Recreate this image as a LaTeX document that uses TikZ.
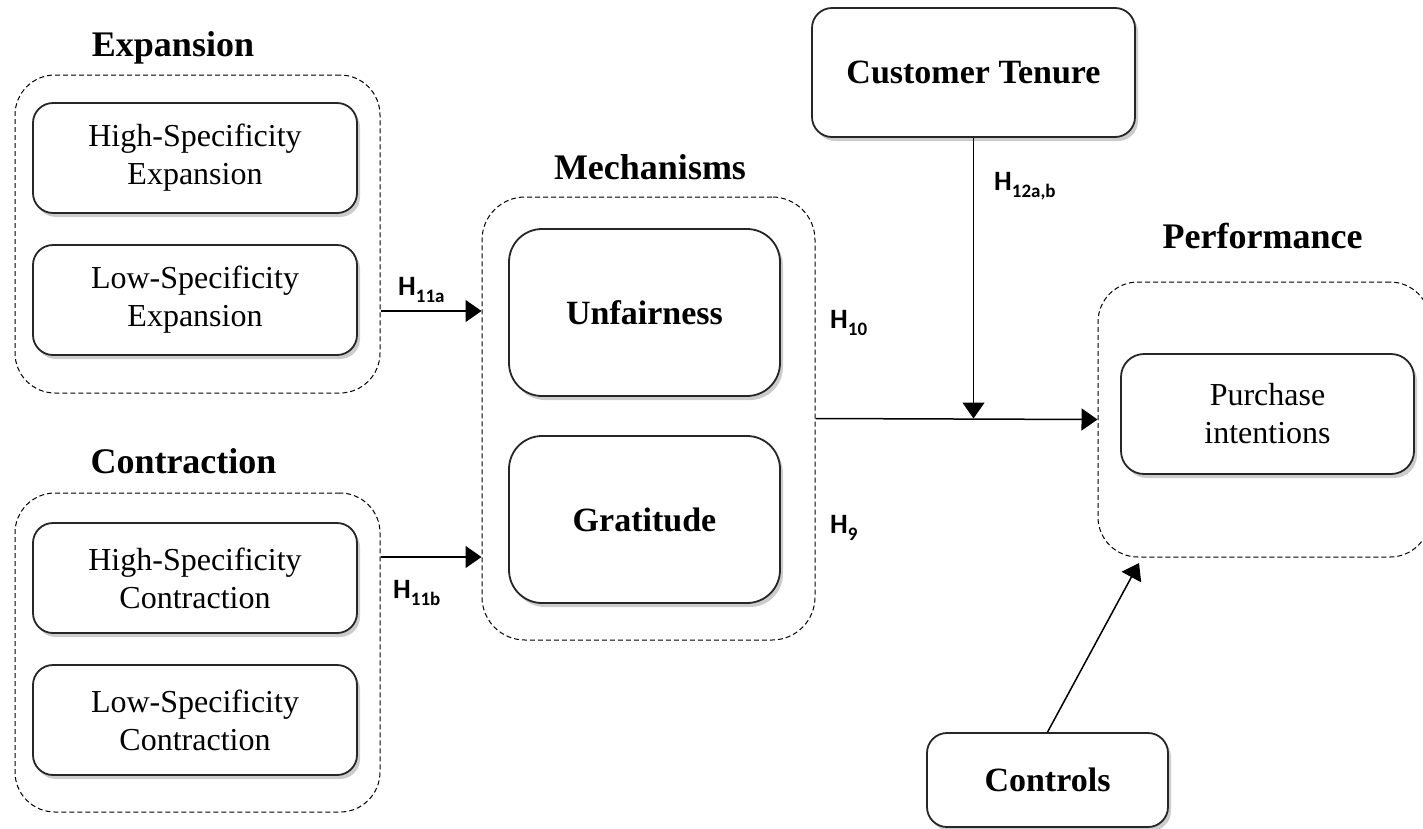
\documentclass[tikz,border=0pt]{standalone}
\usepackage{fontspec}
\setmainfont{Liberation Serif}
\newfontfamily\labfont{Carlito}
\usetikzlibrary{shadows,arrows.meta}
\begin{document}
\begin{tikzpicture}[x=1pt,y=-1pt,
  box/.style={draw=black!85, line width=1.8pt, rounded corners=20pt, fill=white,
    drop shadow={shadow xshift=3pt, shadow yshift=-4pt, opacity=0.4},
    align=center, inner sep=0pt, font=\fontsize{32}{38}\selectfont},
  bbox/.style={box, font=\bfseries\fontsize{34}{40}\selectfont},
  group/.style={draw=black, dash pattern=on 5pt off 3pt, line width=1pt, rounded corners=40pt, inner sep=0pt},
  title/.style={font=\bfseries\fontsize{36}{42}\selectfont, inner sep=0pt, anchor=base},
  hlab/.style={font=\labfont\bfseries\fontsize{28}{30}\selectfont, inner sep=0pt, anchor=base west},
  arr/.style={line width=1.5pt, -{Triangle[length=16pt,width=22pt]}},
]
\useasboundingbox (0,0) rectangle (1423,828);

% groups
\node[group, minimum width=365pt, minimum height=318pt] (gexp) at (197.5,234) {};
\node[group, minimum width=365pt, minimum height=319pt] (gcon) at (197.5,652.5) {};
\node[group, minimum width=333pt, minimum height=443pt, rounded corners=43pt] (gmech) at (648.5,418.5) {};
\node[group, minimum width=332pt, minimum height=275pt] (gperf) at (1264,419.5) {};

% titles
\node[title] (texp) at (173,56) {Expansion};
\node[title] (tcon) at (183.5,473) {Contraction};
\node[title] (tmech) at (650,179) {Mechanisms};
\node[title] (tperf) at (1262.5,248) {Performance};

% boxes
\node[box, minimum width=324pt, minimum height=110pt] (hse) at (195,158) {High-Specificity\\Expansion};
\node[box, minimum width=324pt, minimum height=110pt] (lse) at (195,300) {Low-Specificity\\Expansion};
\node[box, minimum width=324pt, minimum height=110pt] (hsc) at (195,578) {High-Specificity\\Contraction};
\node[box, minimum width=324pt, minimum height=110pt] (lsc) at (195,720) {Low-Specificity\\Contraction};
\node[bbox, minimum width=271pt, minimum height=167pt, rounded corners=33pt] (unf) at (644.5,312.5) {Unfairness};
\node[bbox, minimum width=271pt, minimum height=167pt, rounded corners=33pt] (gra) at (644.5,519.5) {Gratitude};
\node[bbox, minimum width=323pt, minimum height=129pt] (ct) at (973.5,72.5) {Customer Tenure};
\node[box, minimum width=293pt, minimum height=120pt, rounded corners=23pt] (pi) at (1267.5,414) {Purchase\\intentions};
\node[bbox, minimum width=241pt, minimum height=94pt] (ctrl) at (1047.5,780) {Controls};

% connectors
\coordinate (ya) at (0,311);
\coordinate (yb) at (0,557);
\coordinate (ctip) at (1139,563);
\draw[arr] (gexp.east |- ya) -- (gmech.west |- ya);
\draw[arr] (gcon.east |- yb) -- (gmech.west |- yb);
\draw[arr] (gmech.east) -- (gperf.west);
\draw[arr] (ct.south) -- (ct.south |- gmech.east);
\draw[arr] (ctrl.north) -- (ctip);

% labels
\node[hlab] (h11a) at (398,295) {H\raisebox{-7pt}{\fontsize{19}{19}\selectfont 11a}};
\node[hlab] (h11b) at (393,598) {H\raisebox{-7pt}{\fontsize{19}{19}\selectfont 11b}};
\node[hlab] (h10) at (830,328) {H\raisebox{-7pt}{\fontsize{19}{19}\selectfont 10}};
\node[hlab] (h9) at (830,533) {H\raisebox{-7pt}{\fontsize{19}{19}\selectfont 9}};
\node[hlab] (h12) at (994,190) {H\raisebox{-7pt}{\fontsize{19}{19}\selectfont 12a,b}};
\end{tikzpicture}
\end{document}
